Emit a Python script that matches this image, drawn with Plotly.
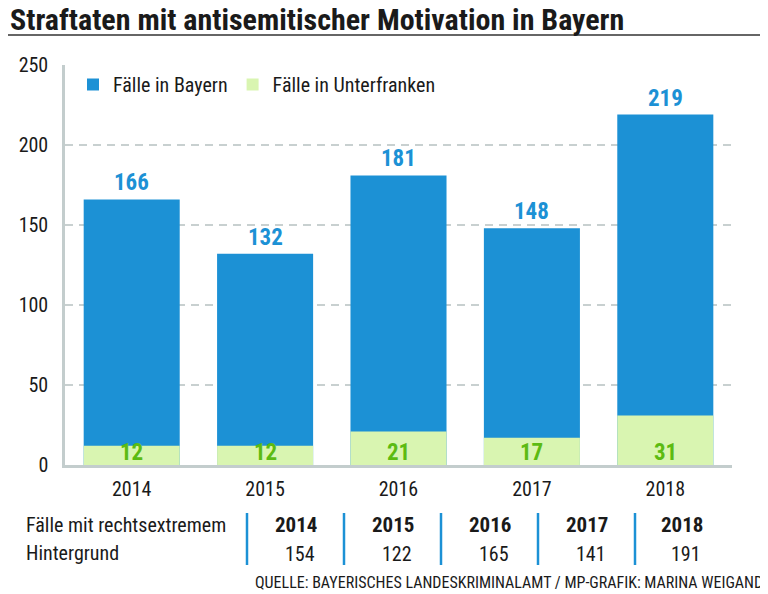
import plotly.graph_objects as go

# Daten
jahre = ["2014", "2015", "2016", "2017", "2018"]
faelle_bayern = [166, 132, 181, 148, 219]
faelle_unterfranken = [12, 12, 21, 17, 31]
rechtsextrem = [154, 122, 165, 141, 191]

BLAU = "#1c91d5"
HELLGRUEN = "#d9f5b1"
GRUEN = "#5cbb12"
TEXT = "#1a1a1a"
SCHRIFT = "Roboto Condensed, DejaVu Sans Condensed, sans-serif"

# die Seite hat 8px Rand, daher etwas kleiner und alles um 8px verschoben
O = 8
W, H = 768 - O, 594 - O
L, R, T, B = 57, 36, 57, 129


def px_x(p):
    return (p - O - L) / (W - L - R)


def px_y(p):
    return (H - B - (p - O)) / (H - T - B)


fig = go.Figure()
fig.add_trace(go.Bar(x=jahre, y=faelle_bayern, name="Fälle in Bayern",
                     marker=dict(color=BLAU, line=dict(width=0)), width=0.72))
fig.add_trace(go.Bar(x=jahre, y=faelle_unterfranken, name="Fälle in Unterfranken",
                     marker=dict(color=HELLGRUEN, line=dict(width=0)), width=0.72))

# Werte über / in den Balken (x = Index der Kategorie)
for i, v in enumerate(faelle_bayern):
    fig.add_annotation(x=i, y=v, text=str(v), showarrow=False, xanchor="center",
                       yanchor="bottom", yshift=1,
                       font=dict(size=23, color=BLAU, family=SCHRIFT, weight="bold"))
for i, v in enumerate(faelle_unterfranken):
    fig.add_annotation(x=i, y=0, text=str(v), showarrow=False, xanchor="center",
                       yanchor="bottom", yshift=-3,
                       font=dict(size=23, color=GRUEN, family=SCHRIFT, weight="bold"))

# Titel + Linie
fig.add_annotation(xref="paper", yref="paper", x=px_x(8), y=px_y(20), xanchor="left",
                   yanchor="middle", showarrow=False,
                   text="Straftaten mit antisemitischer Motivation in Bayern",
                   font=dict(size=30, color=TEXT, family=SCHRIFT, weight="bold"))
fig.add_shape(type="line", xref="paper", yref="paper", x0=px_x(0), x1=px_x(768),
              y0=px_y(35), y1=px_y(35), line=dict(color="#333333", width=1.5))

# Tabelle unten
fig.add_annotation(xref="paper", yref="paper", x=px_x(24), y=px_y(525), xanchor="left",
                   yanchor="middle", showarrow=False, text="Fälle mit rechtsextremem",
                   font=dict(size=20, color=TEXT, family=SCHRIFT))
fig.add_annotation(xref="paper", yref="paper", x=px_x(24), y=px_y(553), xanchor="left",
                   yanchor="middle", showarrow=False, text="Hintergrund",
                   font=dict(size=20, color=TEXT, family=SCHRIFT))
spalten = [247, 344, 441, 538, 635, 729]
for i, (j, v) in enumerate(zip(jahre, rechtsextrem)):
    mitte = (spalten[i] + spalten[i + 1]) / 2
    fig.add_annotation(xref="paper", yref="paper", x=px_x(mitte), y=px_y(525),
                       xanchor="center", yanchor="middle", showarrow=False, text=j,
                       font=dict(size=21, color=TEXT, family=SCHRIFT, weight="bold"))
    fig.add_annotation(xref="paper", yref="paper", x=px_x(mitte + 4), y=px_y(554),
                       xanchor="center", yanchor="middle", showarrow=False, text=str(v),
                       font=dict(size=20, color=TEXT, family=SCHRIFT))
    fig.add_shape(type="line", xref="paper", yref="paper", x0=px_x(spalten[i]),
                  x1=px_x(spalten[i]), y0=px_y(513), y1=px_y(565),
                  line=dict(color=BLAU, width=2.5))

# Quelle
fig.add_annotation(xref="paper", yref="paper", x=px_x(765), y=px_y(594), xanchor="right",
                   yanchor="bottom", showarrow=False,
                   text="QUELLE: BAYERISCHES LANDESKRIMINALAMT / MP-GRAFIK: MARINA WEIGAND",
                   font=dict(size=16, color=TEXT, family=SCHRIFT))

fig.update_layout(
    width=W, height=H,
    margin=dict(l=L, r=R, t=T, b=B),
    barmode="overlay",
    paper_bgcolor="white",
    plot_bgcolor="white",
    font=dict(family=SCHRIFT, size=20, color=TEXT),
    showlegend=True,
    legend=dict(orientation="h", x=px_x(73), y=px_y(65), xanchor="left", yanchor="top",
                font=dict(size=20, family=SCHRIFT, color=TEXT),
                bgcolor="rgba(0,0,0,0)", itemwidth=30),
    xaxis=dict(type="category", range=[-0.5, 4.5], showgrid=False, showline=True,
               linecolor="#c3cdcd", linewidth=2.5, ticks="", tickfont=dict(size=20),
               ticklabelstandoff=4),
    yaxis=dict(range=[0, 250], tickvals=[0, 50, 100, 150, 200, 250], showgrid=True,
               gridcolor="#c8d0d0", griddash="8px,6px", gridwidth=1.5, showline=True,
               linecolor="#c3cdcd", linewidth=2.5, ticks="", zeroline=False,
               tickfont=dict(size=20), ticklabelstandoff=10),
)

fig.write_html("out.html")
